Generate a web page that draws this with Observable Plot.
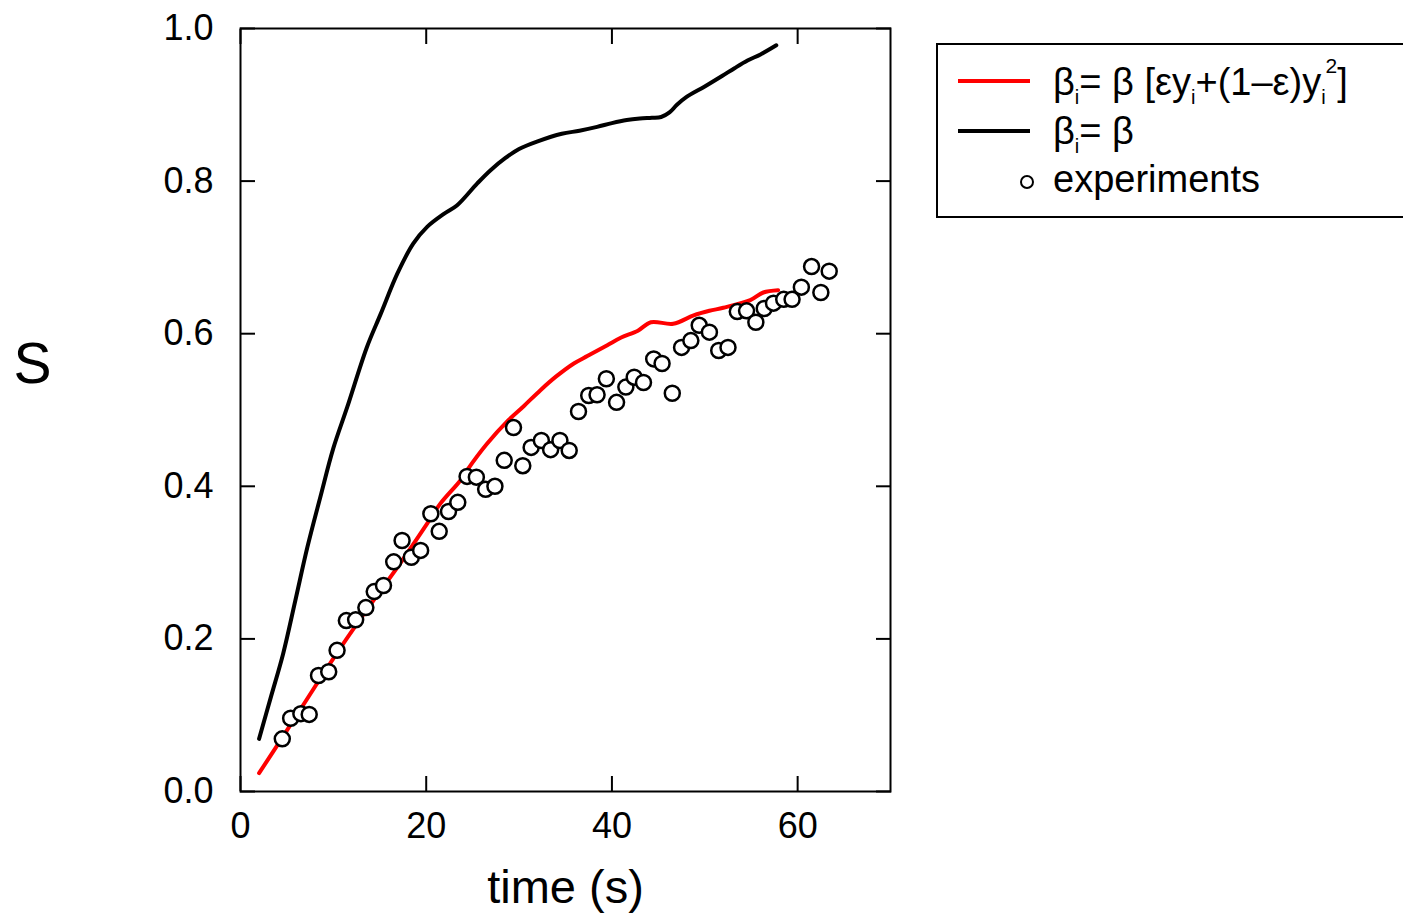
<!DOCTYPE html>
<html><head><meta charset="utf-8">
<script src="https://cdn.jsdelivr.net/npm/d3@7"></script>
<script src="https://cdn.jsdelivr.net/npm/@observablehq/plot@0.6"></script>
<style>
body{margin:0;background:#fff;}
#chart svg{font-family:"Liberation Sans",Arial,Helvetica,sans-serif;}
</style>
</head><body><div id="chart"></div>
<script>
// experiments (time in s, S)
const expT = [4.5,5.4,6.5,7.4,8.4,9.5,10.4,11.4,12.4,13.5,14.4,15.4,16.5,17.4,18.4,19.4,20.5,21.4,22.4,23.4,24.4,25.4,26.4,27.4,28.4,29.4,30.4,31.3,32.4,33.4,34.4,35.4,36.4,37.5,38.4,39.4,40.5,41.5,42.4,43.4,44.5,45.4,46.5,47.5,48.5,49.4,50.5,51.5,52.5,53.5,54.5,55.5,56.4,57.4,58.5,59.4,60.4,61.5,62.5,63.4];
const expS = [0.069,0.096,0.102,0.101,0.152,0.157,0.185,0.224,0.225,0.241,0.262,0.270,0.301,0.329,0.307,0.316,0.364,0.341,0.367,0.379,0.413,0.412,0.396,0.400,0.434,0.477,0.427,0.451,0.460,0.448,0.460,0.447,0.498,0.519,0.520,0.541,0.510,0.530,0.543,0.536,0.567,0.561,0.522,0.582,0.591,0.611,0.602,0.578,0.582,0.629,0.630,0.615,0.633,0.640,0.645,0.645,0.661,0.688,0.654,0.682];
// model beta_i = beta [eps y_i + (1-eps) y_i^2]
const modelT = [2.0,5.0,8.0,10.8,14.0,17.2,20.1,21.5,23.7,24.4,26.5,28.8,30.5,32.3,34.0,35.9,37.4,39.5,41.0,42.8,44.2,46.6,48.8,50.5,52.0,54.9,56.3,57.9];
const modelS = [0.024,0.080,0.137,0.189,0.245,0.299,0.351,0.377,0.408,0.421,0.455,0.486,0.505,0.526,0.544,0.561,0.571,0.585,0.595,0.604,0.615,0.613,0.624,0.630,0.634,0.644,0.654,0.657];
// model beta_i = beta
const constT = [2.0,3.3,4.6,5.9,7.2,8.6,10.0,11.5,13.6,15.1,16.9,18.6,20.1,21.9,23.3,25.5,26.9,28.5,30.0,32.0,34.6,36.5,38.4,40.0,41.6,43.0,44.3,45.3,46.2,47.0,48.0,50.0,51.9,53.2,54.6,56.0,57.7];
const constS = [0.069,0.125,0.181,0.250,0.320,0.386,0.450,0.504,0.582,0.626,0.679,0.718,0.740,0.757,0.768,0.797,0.814,0.830,0.842,0.852,0.862,0.866,0.871,0.876,0.880,0.882,0.883,0.884,0.890,0.900,0.910,0.924,0.938,0.948,0.958,0.966,0.978];
const xTicks = [0,20,40,60];
const yTicks = [0,0.2,0.4,0.6,0.8,1.0];
const xLabel = "time (s)";
const yLabel = "S";

const expData = expT.map((t,i)=>({t, s: expS[i]}));
const modelData = modelT.map((t,i)=>({t, s: modelS[i]}));
const constData = constT.map((t,i)=>({t, s: constS[i]}));

const plot = Plot.plot({
  width: 1403, height: 915,
  marginLeft: 240, marginRight: 513, marginTop: 28, marginBottom: 124,
  style: {fontFamily: '"Liberation Sans", Arial, sans-serif', fontSize: "36px", color: "#000", background: "#fff", overflow: "visible"},
  x: {domain: [0, 70]},
  y: {domain: [0, 1]},
  marks: [
    Plot.axisX(xTicks, {anchor: "bottom", tickSize: -15, tickPadding: 36, strokeWidth: 2, tickFormat: d => String(d), label: null}),
    Plot.axisX(xTicks, {anchor: "top", tickSize: -15, strokeWidth: 2, tickFormat: () => null, label: null}),
    Plot.axisY(yTicks, {anchor: "left", tickSize: -15, tickPadding: 42, strokeWidth: 2, tickFormat: d3.format(".1f"), label: null}),
    Plot.axisY(yTicks, {anchor: "right", tickSize: -15, strokeWidth: 2, tickFormat: () => null, label: null}),
    Plot.frame({stroke: "#000", strokeWidth: 2}),
    Plot.line(constData, {x: "t", y: "s", stroke: "#000", strokeWidth: 4, curve: "catmull-rom"}),
    Plot.line(modelData, {x: "t", y: "s", stroke: "#ff0000", strokeWidth: 4, curve: "catmull-rom"}),
    Plot.dot(expData, {x: "t", y: "s", r: 7.5, fill: "#fff", stroke: "#000", strokeWidth: 2.5}),
    Plot.text([xLabel], {frameAnchor: "bottom", textAnchor: "middle", dy: 111, lineAnchor: "bottom", fontSize: 47}),
    Plot.text([yLabel], {frameAnchor: "left", textAnchor: "middle", dx: -208, dy: -27, lineAnchor: "bottom", fontSize: 57})
  ]
});
document.getElementById("chart").appendChild(plot);

// legend
const svg = d3.select(plot);
const lg = svg.append("g").attr("font-family", '"Liberation Sans", Arial, sans-serif').attr("font-size", 38).attr("fill", "#000").attr("text-anchor", "start");
lg.append("rect").attr("x", 937).attr("y", 44).attr("width", 500).attr("height", 173).attr("fill", "none").attr("stroke", "#000").attr("stroke-width", 2);
lg.append("line").attr("x1", 958).attr("x2", 1030).attr("y1", 81).attr("y2", 81).attr("stroke", "#ff0000").attr("stroke-width", 4);
lg.append("line").attr("x1", 958).attr("x2", 1030).attr("y1", 131).attr("y2", 131).attr("stroke", "#000").attr("stroke-width", 4);
lg.append("circle").attr("cx", 1027).attr("cy", 182).attr("r", 6).attr("fill", "#fff").attr("stroke", "#000").attr("stroke-width", 2);

const t1 = lg.append("text").attr("x", 1053).attr("y", 95).attr("text-anchor", "start");
t1.append("tspan").text("β");
t1.append("tspan").attr("dy", 9).attr("font-size", 20).text("i");
t1.append("tspan").attr("dy", -9).text("= β [εy");
t1.append("tspan").attr("dy", 9).attr("font-size", 20).text("i");
t1.append("tspan").attr("dy", -9).text("+(1–ε)y");
t1.append("tspan").attr("dy", 9).attr("font-size", 20).text("i");
t1.append("tspan").attr("dy", -31).attr("font-size", 21).text("2");
t1.append("tspan").attr("dy", 22).text("]");

const t2 = lg.append("text").attr("x", 1053).attr("y", 144).attr("text-anchor", "start");
t2.append("tspan").text("β");
t2.append("tspan").attr("dy", 9).attr("font-size", 20).text("i");
t2.append("tspan").attr("dy", -9).text("= β");

lg.append("text").attr("x", 1053).attr("y", 192).attr("text-anchor", "start").text("experiments");
</script>
</body></html>
